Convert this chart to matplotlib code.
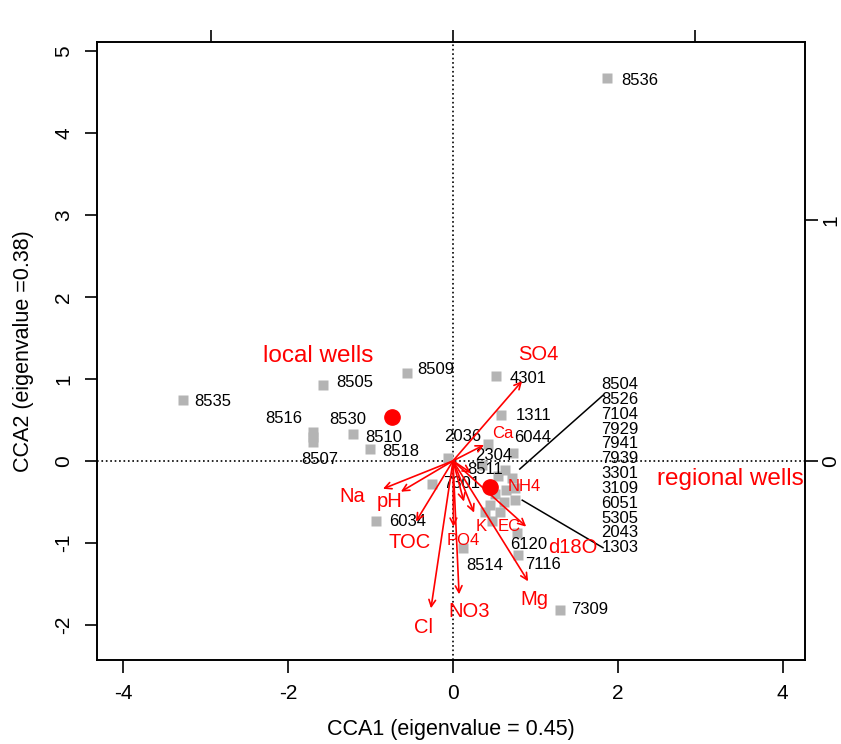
import numpy as np
import matplotlib
matplotlib.use('Agg')
import matplotlib.pyplot as plt

plt.rcParams['font.family'] = ['Liberation Sans', 'DejaVu Sans']
plt.rcParams['axes.unicode_minus'] = False

# sites (CCA1, CCA2 scores)
site_names = ['8536', '8535', '8505', '8509', '8516', '8530', '8507', '8510', '8518',
              '2036', '4301', '1311', '6044', '2304', '8511', '7301', '6034', '8514',
              '6120', '7116', '7309']
site_x = [1.87, -3.28, -1.58, -0.56, -1.70, -1.70, -1.70, -1.21, -1.01,
          -0.06, 0.52, 0.58, 0.73, 0.42, 0.35, -0.25, -0.93, 0.12,
          0.78, 0.79, 1.30]
site_y = [4.67, 0.74, 0.93, 1.07, 0.35, 0.29, 0.23, 0.33, 0.15,
          0.04, 1.04, 0.56, 0.10, 0.20, -0.05, -0.28, -0.73, -1.06,
          -0.88, -1.15, -1.82]

# regional wells cluster
reg_names = ['8504', '8526', '7104', '7929', '7941', '7939',
             '3301', '3109', '6051', '5305', '2043', '1303']
reg_x = [0.63, 0.72, 0.55, 0.75, 0.64, 0.51, 0.75, 0.62, 0.45, 0.57, 0.39, 0.47]
reg_y = [-0.11, -0.21, -0.18, -0.33, -0.35, -0.41, -0.48, -0.50, -0.54, -0.62, -0.62, -0.74]

# group centroids
grp_names = ['local wells', 'regional wells']
grp_x = [-0.74, 0.45]
grp_y = [0.54, -0.32]

# environmental vectors (biplot scores)
env_names = ['SO4', 'Ca', 'Na', 'pH', 'TOC', 'Cl', 'NO3', 'PO4', 'K', 'EC', 'd18O', 'Mg', 'NH4']
env_x = [0.285, 0.128, -0.289, -0.215, -0.153, -0.091, 0.025, 0.002, 0.087, 0.045, 0.302, 0.310, 0.074]
env_y = [0.331, 0.066, -0.116, -0.128, -0.252, -0.612, -0.554, -0.273, -0.215, -0.169, -0.273, -0.500, -0.050]

# ---- layout (label positions, sizes) ----
site_lab = {'8536': (2.27, 4.64), '8535': (-2.92, 0.72), '8505': (-1.19, 0.96),
            '8509': (-0.21, 1.11), '8516': (-2.05, 0.52), '8530': (-1.28, 0.51),
            '8507': (-1.62, 0.02), '8510': (-0.84, 0.29), '8518': (-0.63, 0.12),
            '2036': (0.12, 0.30), '4301': (0.91, 1.01), '1311': (0.98, 0.55),
            '6044': (0.97, 0.28), '2304': (0.49, 0.07), '8511': (0.39, -0.11),
            '7301': (0.11, -0.28), '6034': (-0.55, -0.74), '8514': (0.38, -1.28),
            '6120': (0.92, -1.02), '7116': (1.09, -1.27), '7309': (1.66, -1.81)}
env_lab = {'SO4': (0.351, 0.442), 'Ca': (0.207, 0.112), 'Na': (-0.417, -0.149),
           'pH': (-0.260, -0.169), 'TOC': (-0.178, -0.339), 'Cl': (-0.120, -0.690),
           'NO3': (0.066, -0.624), 'PO4': (0.041, -0.331), 'K': (0.116, -0.273),
           'EC': (0.231, -0.273), 'd18O': (0.495, -0.360), 'Mg': (0.335, -0.574),
           'NH4': (0.293, -0.107)}
small_env = ['Ca', 'NH4', 'K', 'EC', 'PO4']
grp_lab = [(-1.64, 1.28), (3.37, -0.22)]

xlim = (-4.32, 4.27)
ylim = (-2.43, 5.11)
k = 2.94  # scaling between site axes and arrow axes

fig = plt.figure(figsize=(8.41, 7.44), dpi=100)
rect = [0.1153, 0.1129, 0.8418, 0.8306]
ax = fig.add_axes(rect)
ax.set_xlim(xlim)
ax.set_ylim(ylim)
ax.axhline(0, color='black', ls=':', lw=1.2, zorder=1)
ax.axvline(0, color='black', ls=':', lw=1.2, zorder=1)

ax.plot(site_x, site_y, 's', color='#b4b4b4', ms=7, mec='none', zorder=2)
ax.plot(reg_x, reg_y, 's', color='#b4b4b4', ms=7, mec='none', zorder=2)
for n in site_names:
    ax.text(*site_lab[n], n, fontsize=12, ha='center', va='center', zorder=3)

# list of regional well names with leader lines
ax.plot([0.81, 1.82], [-0.10, 0.80], color='black', lw=1.1)
ax.plot([0.84, 1.82], [-0.48, -1.06], color='black', lw=1.1)
ys = np.linspace(0.93, -1.06, len(reg_names))
for n, yy in zip(reg_names, ys):
    ax.text(1.80, yy, n, fontsize=12, ha='left', va='center')

ax.plot(grp_x, grp_y, 'o', color='red', ms=11, zorder=4)
for n, (tx, ty) in zip(grp_names, grp_lab):
    ax.text(tx, ty, n, color='red', fontsize=17.5, ha='center', va='center')

ax.set_xticks([-4, -2, 0, 2, 4])
ax.set_yticks([-2, -1, 0, 1, 2, 3, 4, 5])
ax.tick_params(direction='out', length=9, width=1.2, labelsize=15)
ax.tick_params(axis='x', pad=8)
ax.tick_params(axis='y', labelrotation=90, pad=8)
for lab in ax.get_yticklabels():
    lab.set_va('center')
for s in ax.spines.values():
    s.set_linewidth(1.4)
ax.set_xlabel('CCA1 (eigenvalue = 0.45)', fontsize=15.5, labelpad=12)
ax.set_ylabel('CCA2 (eigenvalue =0.38)', fontsize=15.5, labelpad=15)

# arrows on second scale
ax2 = fig.add_axes(rect, frameon=False)
ax2.set_xlim(xlim[0] / k, xlim[1] / k)
ax2.set_ylim(ylim[0] / k, ylim[1] / k)
ax2.xaxis.tick_top()
ax2.yaxis.tick_right()
ax2.set_xticks([-1, 0, 1])
ax2.set_yticks([0, 1])
ax2.tick_params(direction='out', length=9, width=1.2, labelsize=15)
ax2.tick_params(axis='x', labeltop=False)
ax2.tick_params(axis='y', labelrotation=90, pad=3)
for lab in ax2.get_yticklabels():
    lab.set_va('center')

for n, ex, ey in zip(env_names, env_x, env_y):
    ax2.annotate('', xy=(ex, ey), xytext=(0, 0),
                 arrowprops=dict(arrowstyle='->', color='red', lw=1.2,
                                 shrinkA=0, shrinkB=0, mutation_scale=12))
    fs = 12 if n in small_env else 14.5
    ax2.text(*env_lab[n], n, color='red', fontsize=fs, ha='center', va='center')

fig.savefig('out.png', dpi=100)
